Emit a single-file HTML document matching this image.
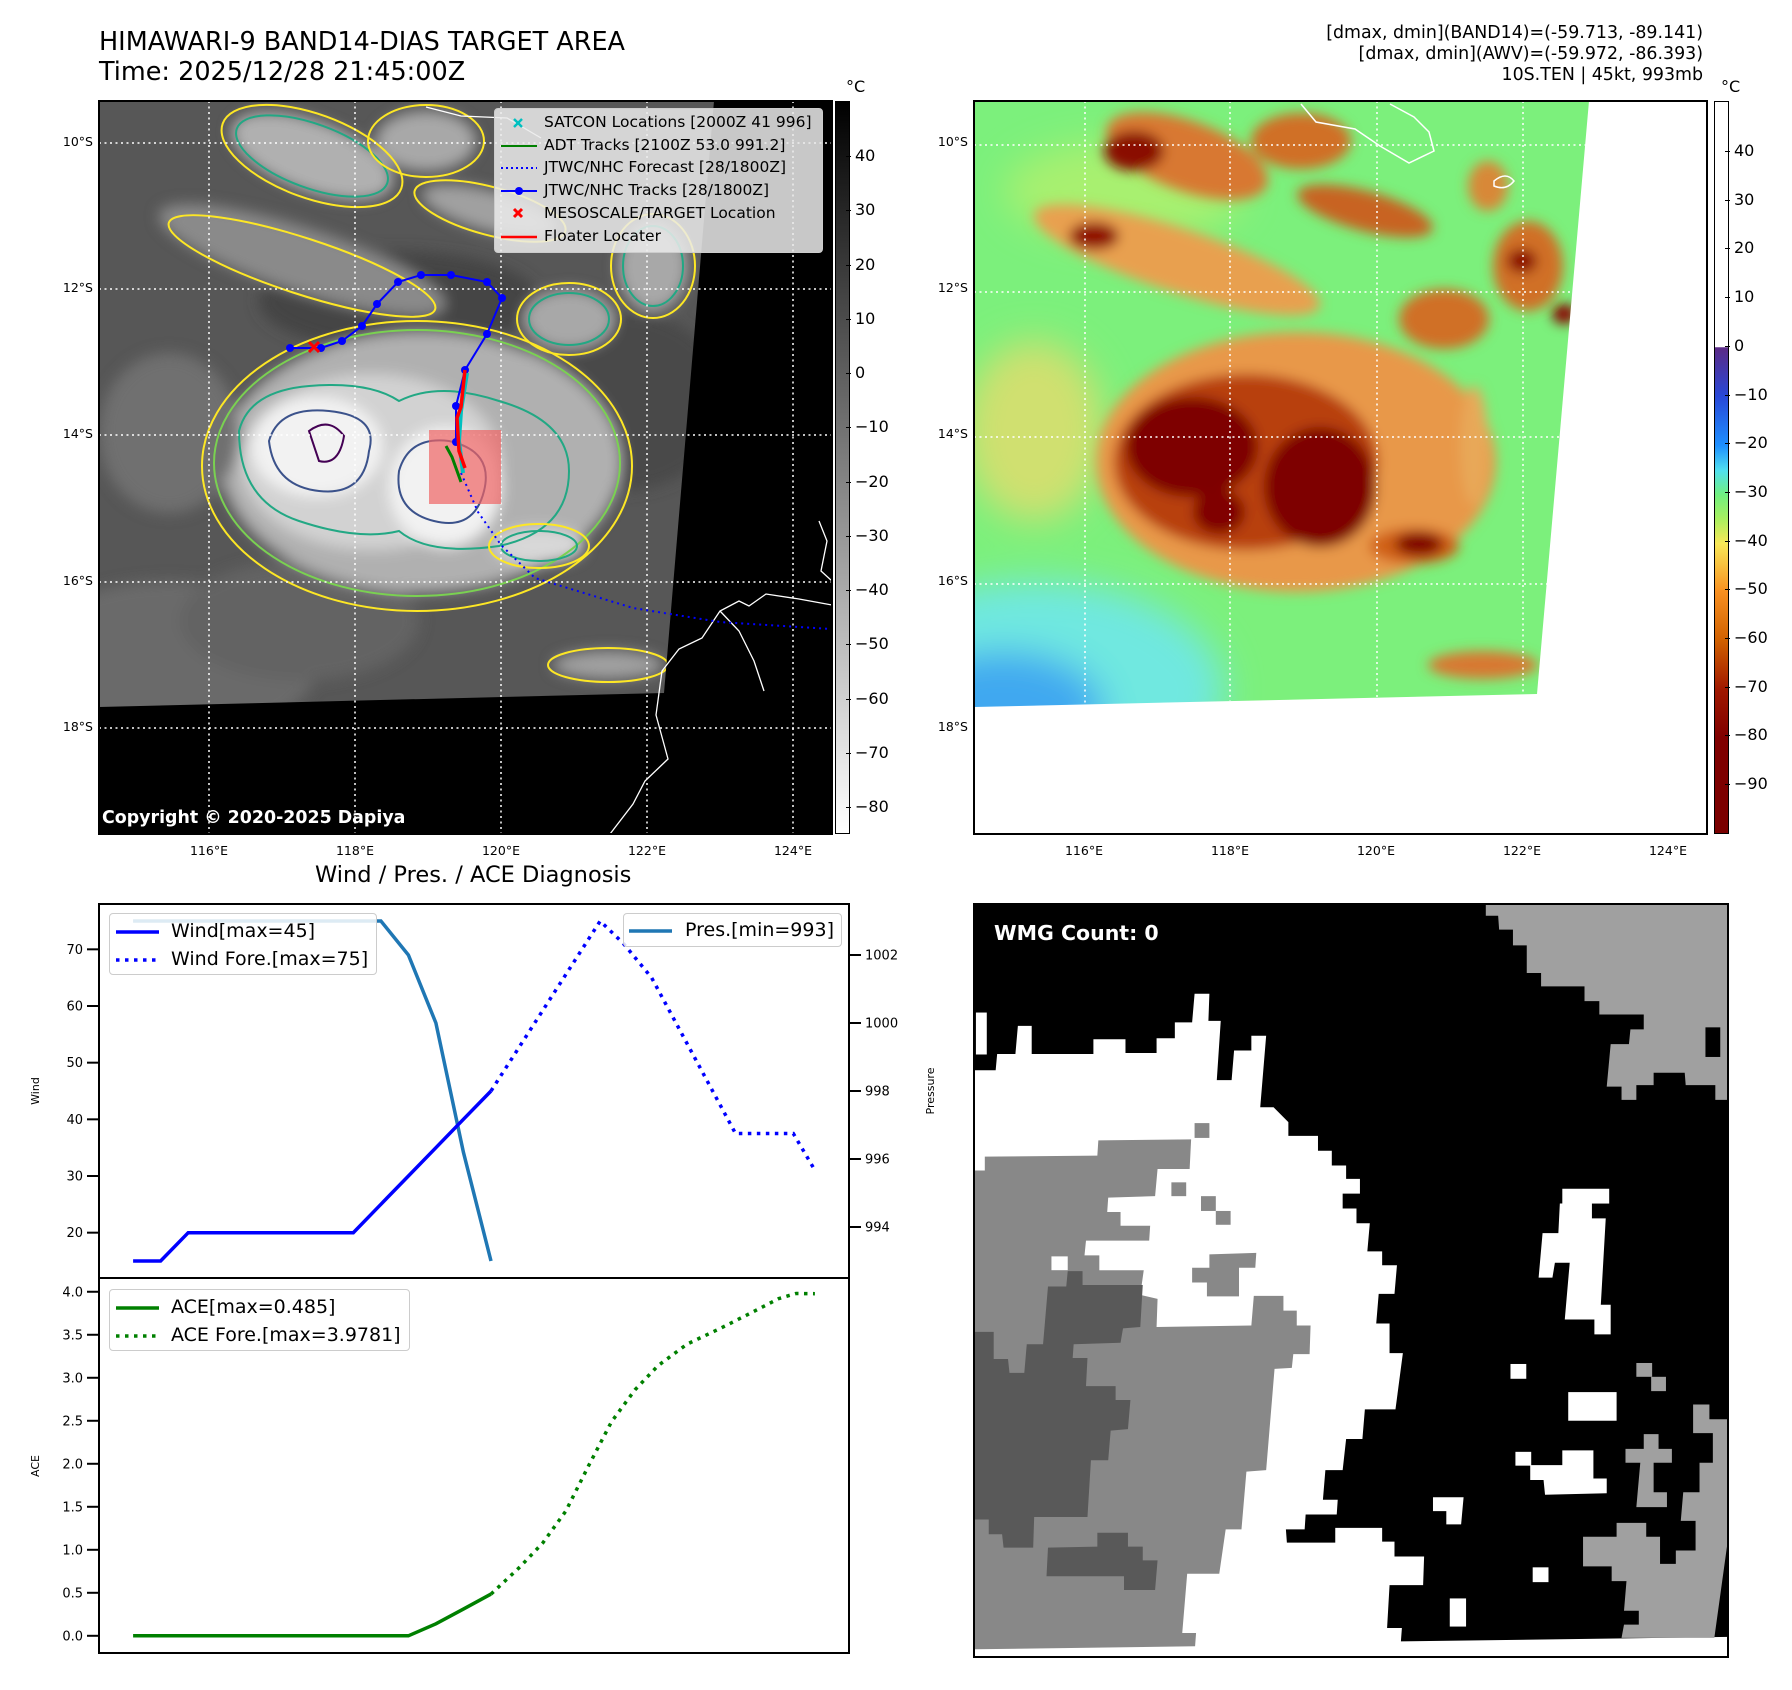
<!DOCTYPE html>
<html><head><meta charset="utf-8"><style>
*{margin:0;padding:0;box-sizing:border-box}
body{width:1792px;height:1690px;background:#fff;position:relative;overflow:hidden;font-family:"DejaVu Sans","Liberation Sans",sans-serif;color:#000}
.abs{position:absolute}
.t{position:absolute;white-space:nowrap;line-height:1}
.frame{position:absolute;border:2px solid #000}
.lat{position:absolute;font-size:12.5px;text-align:right;width:60px;white-space:nowrap}
.lon{position:absolute;font-size:12.5px;text-align:center;width:60px;white-space:nowrap}
.cbl{position:absolute;font-size:16px;white-space:nowrap}
.leg{position:absolute;background:rgba(235,235,235,0.85);border:1px solid #ccc;border-radius:4px}
.lt{position:absolute;font-size:15.5px;white-space:nowrap;line-height:1}
</style></head><body>

<div class="t" style="left:99px;top:30px;font-size:25.5px">HIMAWARI-9 BAND14-DIAS TARGET AREA</div>
<div class="t" style="left:99px;top:60px;font-size:25.5px">Time: 2025/12/28 21:45:00Z</div>
<div class="t" style="right:89px;top:23px;font-size:17.4px;text-align:right;line-height:21px">[dmax, dmin](BAND14)=(-59.713, -89.141)<br>[dmax, dmin](AWV)=(-59.972, -86.393)<br>10S.TEN | 45kt, 993mb</div>

<!-- MAP 1 -->
<svg class="abs" style="left:99px;top:101px" width="733" height="733" viewBox="0 0 733 733">
<defs>
<filter id="b6" x="-20%" y="-20%" width="140%" height="140%"><feGaussianBlur stdDeviation="7"/></filter>
<clipPath id="c1"><rect width="733" height="733"/></clipPath>
</defs>
<g clip-path="url(#c1)">
<rect width="733" height="733" fill="#575757"/>
<g filter="url(#b6)">
<ellipse cx="300" cy="200" rx="140" ry="50" fill="#444"/>
<ellipse cx="520" cy="300" rx="110" ry="90" fill="#4a4a4a"/>
<ellipse cx="70" cy="560" rx="150" ry="80" fill="#6a6a6a"/>
<ellipse cx="200" cy="520" rx="120" ry="60" fill="#636363"/>
<ellipse cx="322" cy="361" rx="200" ry="130" fill="#b0b0b0"/>
<ellipse cx="272" cy="361" rx="130" ry="88" fill="#d2d2d2"/>
<ellipse cx="218" cy="346" rx="66" ry="50" fill="#f2f2f2"/>
<ellipse cx="346" cy="386" rx="56" ry="60" fill="#f2f2f2"/>
<ellipse cx="440" cy="445" rx="45" ry="18" fill="#d8d8d8"/>
<ellipse cx="213" cy="55" rx="85" ry="35" fill="#b0b0b0" transform="rotate(20 213 55)"/>
<ellipse cx="327" cy="40" rx="50" ry="30" fill="#a8a8a8"/>
<ellipse cx="391" cy="110" rx="70" ry="20" fill="#a0a0a0" transform="rotate(15 391 110)"/>
<ellipse cx="203" cy="159" rx="150" ry="32" fill="#8a8a8a" transform="rotate(18 203 159)"/>
<ellipse cx="470" cy="218" rx="45" ry="30" fill="#a8a8a8"/>
<ellipse cx="554" cy="165" rx="35" ry="45" fill="#a8a8a8"/>
<ellipse cx="509" cy="564" rx="55" ry="14" fill="#a0a0a0"/>
<ellipse cx="70" cy="332" rx="70" ry="80" fill="#707070"/>
</g>
<g fill="none" stroke-width="2">
<ellipse cx="318" cy="365" rx="215" ry="145" stroke="#fde725"/>
<ellipse cx="318" cy="362" rx="203" ry="133" stroke="#7ad151"/>
<path d="M140 330 Q150 290 210 285 Q270 280 300 300 Q340 280 400 300 Q470 320 470 370 Q470 430 400 445 Q330 455 300 430 Q260 440 200 420 Q140 400 140 330Z" stroke="#22a884"/>
<path d="M170 340 Q180 305 230 310 Q280 315 270 350 Q265 395 220 390 Q175 385 170 340Z" stroke="#3b528b"/>
<path d="M300 370 Q310 335 350 340 Q395 350 385 390 Q375 430 335 420 Q295 410 300 370Z" stroke="#3b528b"/>
<path d="M210 330 Q230 315 245 335 Q240 365 220 360Z" stroke="#440154"/>
<ellipse cx="213" cy="55" rx="95" ry="42" stroke="#fde725" transform="rotate(20 213 55)"/>
<ellipse cx="213" cy="55" rx="80" ry="32" stroke="#22a884" transform="rotate(20 213 55)"/>
<ellipse cx="327" cy="40" rx="58" ry="36" stroke="#fde725"/>
<ellipse cx="391" cy="110" rx="78" ry="24" stroke="#fde725" transform="rotate(15 391 110)"/>
<ellipse cx="203" cy="165" rx="140" ry="28" stroke="#fde725" transform="rotate(18 203 165)"/>
<ellipse cx="470" cy="218" rx="52" ry="36" stroke="#fde725"/>
<ellipse cx="470" cy="218" rx="40" ry="26" stroke="#22a884"/>
<ellipse cx="554" cy="165" rx="42" ry="52" stroke="#fde725"/>
<ellipse cx="554" cy="165" rx="30" ry="40" stroke="#22a884"/>
<ellipse cx="509" cy="564" rx="60" ry="17" stroke="#fde725"/>
<ellipse cx="440" cy="445" rx="50" ry="22" stroke="#fde725"/>
<ellipse cx="440" cy="445" rx="38" ry="15" stroke="#22a884"/>
</g>
<polygon points="615,0 733,0 733,733 0,733 0,606 565,592" fill="#000"/>
<g stroke="#fff" stroke-width="1.5" stroke-dasharray="2 3.5" fill="none">
<line x1="110" y1="0" x2="110" y2="733"/><line x1="256" y1="0" x2="256" y2="733"/><line x1="402" y1="0" x2="402" y2="733"/><line x1="548" y1="0" x2="548" y2="733"/><line x1="694" y1="0" x2="694" y2="733"/>
<line x1="0" y1="42" x2="733" y2="42"/><line x1="0" y1="188" x2="733" y2="188"/><line x1="0" y1="334" x2="733" y2="334"/><line x1="0" y1="481" x2="733" y2="481"/><line x1="0" y1="627" x2="733" y2="627"/>
</g>
<g stroke="#fff" stroke-width="1.3" fill="none">
<path d="M733 504 L700 498 L667 493 L650 505 L640 500 L621 510 L603 537 L580 548 L563 570 L557 614 L569 658 L546 680 L534 703 L511 733"/>
<path d="M621 510 L640 530 L655 560 L665 590"/>
<path d="M327 6 L362 15 L408 17 L442 37"/>
<path d="M720 420 L728 440 L722 470 L733 480"/>
</g>
<rect x="330" y="329" width="72" height="74" fill="rgba(240,100,100,0.7)"/>
<polyline points="362,372 379,411 402,444 436,477 534,507 621,521 733,528" fill="none" stroke="#0000ff" stroke-width="2" stroke-dasharray="2 4"/>
<polyline points="191,247 222,247 243,240 263,225 278,203 299,181 322,174 352,174 388,181 403,197 388,233 366,269 357,305 357,341" fill="none" stroke="#0000ff" stroke-width="2"/>
<g fill="#0000ff"><circle cx="191" cy="247" r="4"/><circle cx="222" cy="247" r="4"/><circle cx="243" cy="240" r="4"/><circle cx="263" cy="225" r="4"/><circle cx="278" cy="203" r="4"/><circle cx="299" cy="181" r="4"/><circle cx="322" cy="174" r="4"/><circle cx="352" cy="174" r="4"/><circle cx="388" cy="181" r="4"/><circle cx="403" cy="197" r="4"/><circle cx="388" cy="233" r="4"/><circle cx="366" cy="269" r="4"/><circle cx="357" cy="305" r="4"/><circle cx="357" cy="341" r="4"/></g>
<polyline points="368,272 362,310 360,340 364,372" fill="none" stroke="#00c0c0" stroke-width="4"/>
<polyline points="347,345 353,356 362,381" fill="none" stroke="#008000" stroke-width="3"/>
<polyline points="366,269 362,306 358,317 360,350 366,367" fill="none" stroke="#ff0000" stroke-width="3.5"/>
<g stroke="#ff0000" stroke-width="3"><line x1="210" y1="241" x2="220" y2="251"/><line x1="220" y1="241" x2="210" y2="251"/></g>
</g>
</svg>
<div class="frame" style="left:98px;top:100px;width:735px;height:735px"></div>
<div class="t" style="left:102px;top:810px;font-size:17.4px;font-weight:bold;color:#fff">Copyright © 2020-2025 Dapiya</div>

<!-- legend map1 -->
<div class="leg" style="left:494px;top:108px;width:329px;height:145px">
<svg class="abs" style="left:0;top:0" width="329" height="145">
<g stroke="#00c0c0" stroke-width="2.5"><line x1="19" y1="10" x2="27" y2="18"/><line x1="27" y1="10" x2="19" y2="18"/></g>
<line x1="6" y1="37" x2="42" y2="37" stroke="#008000" stroke-width="2"/>
<line x1="6" y1="59" x2="42" y2="59" stroke="#0000ff" stroke-width="2" stroke-dasharray="2 3"/>
<line x1="6" y1="82" x2="42" y2="82" stroke="#0000ff" stroke-width="2"/><circle cx="24" cy="82" r="4" fill="#0000ff"/>
<g stroke="#ff0000" stroke-width="3"><line x1="19" y1="100" x2="27" y2="108"/><line x1="27" y1="100" x2="19" y2="108"/></g>
<line x1="6" y1="128" x2="42" y2="128" stroke="#ff0000" stroke-width="2.5"/>
</svg>
<div class="lt" style="left:49px;top:6px">SATCON Locations [2000Z 41 996]</div>
<div class="lt" style="left:49px;top:29px">ADT Tracks [2100Z 53.0 991.2]</div>
<div class="lt" style="left:49px;top:51px">JTWC/NHC Forecast [28/1800Z]</div>
<div class="lt" style="left:49px;top:74px">JTWC/NHC Tracks [28/1800Z]</div>
<div class="lt" style="left:49px;top:97px">MESOSCALE/TARGET Location</div>
<div class="lt" style="left:49px;top:120px">Floater Locater</div>
</div>

<!-- colorbar 1 -->
<div class="abs" style="left:835px;top:101px;width:15px;height:733px;border:1px solid #000;background:linear-gradient(#000,#fff)"></div>
<div class="t" style="left:846px;top:79px;font-size:16px">°C</div>
<div id="cb1"></div>

<!-- MAP 2 -->
<svg class="abs" style="left:974px;top:101px" width="733" height="733" viewBox="0 0 733 733">
<defs>
<filter id="c6" x="-20%" y="-20%" width="140%" height="140%"><feGaussianBlur stdDeviation="6"/></filter>
<filter id="c12" x="-30%" y="-30%" width="160%" height="160%"><feGaussianBlur stdDeviation="18"/></filter>
<clipPath id="c2"><rect width="733" height="733"/></clipPath>
</defs>
<g clip-path="url(#c2)">
<rect width="733" height="733" fill="#7cf07c"/>
<g filter="url(#c12)">
<ellipse cx="60" cy="590" rx="190" ry="110" fill="#70e8e0"/>
<ellipse cx="30" cy="610" rx="100" ry="60" fill="#40a8f0"/>
<ellipse cx="60" cy="330" rx="70" ry="90" fill="#d0e070"/>
<ellipse cx="150" cy="90" rx="120" ry="50" fill="#a8f070"/>
</g>
<g filter="url(#c6)">
<ellipse cx="322" cy="361" rx="200" ry="130" fill="#e89848"/>
<ellipse cx="272" cy="361" rx="132" ry="88" fill="#b84008"/>
<ellipse cx="218" cy="346" rx="66" ry="50" fill="#7e0000"/>
<ellipse cx="346" cy="386" rx="56" ry="60" fill="#7e0000"/>
<ellipse cx="245" cy="411" rx="26" ry="22" fill="#800000"/>
<ellipse cx="440" cy="445" rx="45" ry="18" fill="#d06018"/>
<ellipse cx="445" cy="443" rx="24" ry="12" fill="#800000"/>
<ellipse cx="213" cy="55" rx="85" ry="35" fill="#d87830" transform="rotate(20 213 55)"/>
<ellipse cx="160" cy="50" rx="30" ry="20" fill="#8a1000"/>
<ellipse cx="327" cy="40" rx="50" ry="28" fill="#d07028"/>
<ellipse cx="391" cy="110" rx="70" ry="20" fill="#c86420" transform="rotate(15 391 110)"/>
<ellipse cx="203" cy="159" rx="150" ry="32" fill="#e8a050" transform="rotate(18 203 159)"/>
<ellipse cx="120" cy="135" rx="25" ry="14" fill="#901000"/>
<ellipse cx="470" cy="218" rx="45" ry="30" fill="#d07028"/>
<ellipse cx="554" cy="165" rx="35" ry="45" fill="#d07028"/>
<ellipse cx="548" cy="160" rx="15" ry="12" fill="#8a0000"/>
<ellipse cx="590" cy="213" rx="12" ry="10" fill="#8a0000"/>
<ellipse cx="514" cy="85" rx="20" ry="25" fill="#d88838"/>
<ellipse cx="509" cy="564" rx="55" ry="14" fill="#d87830"/>
<ellipse cx="500" cy="345" rx="14" ry="60" fill="#e8a858"/>
</g>
<polygon points="615,0 733,0 733,733 0,733 0,606 563,593" fill="#fff"/>
<g stroke="#fff" stroke-width="1.5" stroke-dasharray="2 3.5" fill="none">
<line x1="111" y1="0" x2="111" y2="604"/><line x1="256" y1="0" x2="256" y2="600"/><line x1="403" y1="0" x2="403" y2="597"/><line x1="549" y1="0" x2="549" y2="593"/>
<line x1="0" y1="44" x2="615" y2="44"/><line x1="0" y1="191" x2="605" y2="191"/><line x1="0" y1="336" x2="595" y2="336"/><line x1="0" y1="483" x2="580" y2="483"/>
</g>
<g stroke="#fff" stroke-width="1.5" fill="none">
<path d="M327 3 L342 21 L381 28 L406 45 L435 62 L460 50 L455 31 L440 16 L416 3"/>
<path d="M520 80 Q532 70 540 80 Q532 90 520 85Z"/>
</g>
</g>
</svg>
<div class="frame" style="left:973px;top:100px;width:735px;height:735px"></div>
<div class="abs" style="left:1714px;top:101px;width:15px;height:733px;border:1px solid #000;background:linear-gradient(#fff 0%,#fff 33.5%,#5b2a86 33.6%,#2848d8 40.3%,#1e90ff 47%,#50e0f0 50.4%,#70f080 53.7%,#a8f060 57%,#f8e858 60.4%,#f89020 67%,#d06000 73.7%,#a01800 80.4%,#800000 87%,#7a0000 100%)"></div>
<div class="t" style="left:1721px;top:79px;font-size:16px">°C</div>
<div id="cb2"></div>
<div id="maplabels"></div>

<!-- WIND / ACE chart -->
<div class="t" style="left:315px;top:864px;font-size:22.5px">Wind / Pres. / ACE Diagnosis</div>
<svg id="chart" class="abs" style="left:0;top:880px" width="970" height="800" viewBox="0 880 970 800"></svg>

<div class="leg" style="left:109px;top:913px;width:268px;height:62px;background:rgba(255,255,255,0.85)">
<svg class="abs" width="268" height="62"><line x1="6" y1="18" x2="49" y2="18" stroke="#0000ff" stroke-width="3.5"/><line x1="6" y1="46" x2="49" y2="46" stroke="#0000ff" stroke-width="3.5" stroke-dasharray="3.5 5.5"/></svg>
<div class="lt" style="left:61px;top:8px;font-size:19px">Wind[max=45]</div>
<div class="lt" style="left:61px;top:36px;font-size:19px">Wind Fore.[max=75]</div>
</div>
<div class="leg" style="left:623px;top:913px;width:219px;height:34px;background:rgba(255,255,255,0.85)">
<svg class="abs" width="219" height="34"><line x1="5" y1="17" x2="48" y2="17" stroke="#1f77b4" stroke-width="3.5"/></svg>
<div class="lt" style="left:61px;top:7px;font-size:19px">Pres.[min=993]</div>
</div>
<div class="leg" style="left:109px;top:1289px;width:301px;height:62px;background:rgba(255,255,255,0.85)">
<svg class="abs" width="301" height="62"><line x1="6" y1="18" x2="49" y2="18" stroke="#008000" stroke-width="3.5"/><line x1="6" y1="46" x2="49" y2="46" stroke="#008000" stroke-width="3.5" stroke-dasharray="3.5 5.5"/></svg>
<div class="lt" style="left:61px;top:8px;font-size:19px">ACE[max=0.485]</div>
<div class="lt" style="left:61px;top:36px;font-size:19px">ACE Fore.[max=3.9781]</div>
</div>

<!-- WMG panel -->
<svg class="abs" style="left:970px;top:900px" width="770" height="770" viewBox="0 0 1560 1560">
<rect x="8" y="8" width="1529" height="1525" fill="#fff"/>
<polygon fill="#000" points="8,8 1537,8 1537,1493 873,1502 875,1475 845,1475 850,1388 918,1388 920,1330 860,1330 860,1300 835,1300 835,1272 740,1272 740,1302 642,1302 640,1275 678,1275 680,1245 743,1245 745,1215 715,1215 720,1155 755,1155 762,1092 795,1092 800,1032 862,1032 877,918 850,918 850,858 823,858 828,798 860,798 865,740 835,740 835,712 805,712 810,655 783,655 783,625 755,625 755,595 790,595 790,565 762,565 762,538 733,538 733,508 705,508 705,478 645,478 645,450 615,420 588,420 600,275 570,275 570,305 535,305 530,365 500,365 508,245 483,245 485,190 455,190 450,248 415,248 415,280 378,280 378,310 315,310 315,282 250,282 250,312 125,312 125,255 97,255 92,312 55,312 52,345 8,345"/>
<rect x="12" y="228" width="22" height="85" fill="#fff"/>
<g fill="#fff">
<rect x="1200" y="585" width="95" height="30"/>
<polygon points="1195,615 1260,615 1260,645 1288,645 1278,820 1298,820 1298,880 1265,880 1265,850 1205,850 1215,735 1185,735 1180,765 1152,765 1160,675 1192,675"/>
<rect x="1095" y="940" width="32" height="30"/>
<rect x="1212" y="997" width="98" height="58"/>
<rect x="1105" y="1118" width="32" height="28"/>
<polygon points="1135,1145 1200,1145 1200,1115 1263,1115 1263,1172 1290,1172 1290,1202 1165,1205 1162,1175 1135,1175"/>
<polygon points="938,1210 1000,1210 995,1265 965,1265 965,1238 938,1238"/>
<rect x="1140" y="1352" width="32" height="30"/>
<rect x="972" y="1415" width="33" height="57"/>
</g>
<g fill="#a0a0a0">
<polygon points="1045,10 1537,10 1537,405 1510,405 1510,375 1450,375 1448,350 1385,350 1385,375 1350,375 1350,405 1320,405 1320,378 1290,378 1298,292 1335,292 1338,262 1365,262 1365,232 1275,232 1275,205 1245,205 1245,175 1157,175 1157,148 1128,148 1128,92 1100,92 1100,60 1072,60 1070,32 1045,32"/>
<polygon points="1465,1022 1498,1022 1498,1052 1535,1052 1535,1300 1508,1495 1320,1495 1325,1468 1355,1468 1355,1440 1325,1440 1330,1380 1300,1380 1300,1350 1242,1350 1242,1290 1310,1290 1310,1262 1370,1262 1370,1290 1398,1290 1398,1345 1430,1345 1430,1318 1470,1318 1470,1258 1440,1258 1445,1200 1478,1200 1478,1140 1505,1140 1505,1080 1465,1080"/>
<polygon points="1328,1112 1365,1112 1365,1082 1395,1082 1395,1112 1422,1112 1422,1140 1385,1140 1385,1200 1412,1200 1412,1230 1350,1230 1358,1140 1328,1140"/>
<rect x="1350" y="938" width="32" height="28"/><rect x="1380" y="966" width="30" height="29"/>
</g>
<rect x="1490" y="258" width="30" height="60" fill="#000"/>
<polygon fill="#888" points="10,548 30,548 30,520 258,518 260,487 448,485 445,545 380,545 375,600 280,603 278,632 305,632 305,660 365,660 363,690 235,690 232,720 262,720 262,750 352,750 345,800 380,808 378,865 570,862 575,802 635,802 635,832 662,832 662,862 690,862 688,920 655,920 652,948 617,950 600,1155 560,1158 550,1275 518,1275 505,1365 440,1365 430,1485 458,1485 456,1512 10,1518"/>
<g fill="#888"><rect x="455" y="452" width="30" height="30"/><rect x="408" y="572" width="30" height="28"/><rect x="468" y="600" width="30" height="30"/><rect x="498" y="630" width="30" height="28"/>
<polygon points="485,718 580,715 578,745 545,745 545,803 480,803 480,775 450,775 450,745 485,745"/></g>
<rect x="165" y="722" width="33" height="28" fill="#fff"/>
<polygon fill="#595959" points="10,875 48,875 48,930 77,930 80,958 110,958 115,900 148,900 158,783 195,783 198,752 228,752 228,780 350,780 345,865 310,868 305,897 210,900 208,928 238,928 235,985 295,985 295,1013 325,1013 320,1072 285,1075 280,1135 245,1135 238,1250 130,1250 128,1312 68,1312 65,1285 38,1285 38,1255 10,1255"/>
<polygon fill="#595959" points="258,1282 320,1282 320,1310 350,1310 350,1338 380,1338 375,1398 312,1398 312,1370 155,1370 158,1312 258,1310"/>
</svg>
<div class="frame" style="left:973px;top:903px;width:756px;height:755px"></div>
<div class="t" style="left:994px;top:923px;font-size:20.5px;font-weight:bold;color:#fff">WMG Count: 0</div>

<script>
// ---- chart data ----
const obsHours = [0,6,12,18,24,30,36,42,48,54,60,66,72,78];
const windObs = [15,15,20,20,20,20,20,20,20,25,30,35,40,45];
const presObs = [1003,1003,1003,1003,1003,1003,1003,1003,1003,1003,1002,1000,996.2,993];
const aceObs = [0,0,0,0,0,0,0,0,0,0,0,0.14,0.31,0.485];
const foreHours = [78,101.8,106.9,113,131.3,143.9,148.6];
const windFore = [45,75,71,65,37.5,37.5,31];
const aceForeHours = [78,84.3,89.3,94.3,99.3,104.3,109.4,114.4,120.7,128.2,134.5,140.7,144.5,148.6];
const aceFore = [0.485,0.8,1.08,1.45,1.98,2.49,2.86,3.14,3.39,3.58,3.75,3.92,3.98,3.978];
const windTicks = [20,30,40,50,60,70];
const presTicks = [994,996,998,1000,1002];
const aceTicks = [0.0,0.5,1.0,1.5,2.0,2.5,3.0,3.5,4.0];
const cb1Ticks = [40,30,20,10,0,-10,-20,-30,-40,-50,-60,-70,-80];
const cb2Ticks = [40,30,20,10,0,-10,-20,-30,-40,-50,-60,-70,-80,-90];
const latLabels = ["10°S","12°S","14°S","16°S","18°S"];
const lonLabels = ["116°E","118°E","120°E","122°E","124°E"];

const NS='http://www.w3.org/2000/svg';
const svg=document.getElementById('chart');
const L=99,R=849,T1=904,B1=1278,T2=1278,B2=1653;
const xmin=-7.43,xmax=156.03;
function X(h){return L+(h-xmin)/(xmax-xmin)*(R-L);}
function YW(v){return T1+(78-v)/(78-12)*(B1-T1);}
function YP(p){return T1+(1003.5-p)/(1003.5-992.5)*(B1-T1);}
function YA(a){return T2+(4.16-a)/(4.16+0.2)*(B2-T2);}
function mk(tag,attrs){const e=document.createElementNS(NS,tag);for(const k in attrs)e.setAttribute(k,attrs[k]);svg.appendChild(e);return e;}
function pts(xs,ys,fy){return xs.map((h,i)=>X(h).toFixed(1)+','+fy(ys[i]).toFixed(1)).join(' ');}

let e;
e=mk('polyline',{points:pts(obsHours,presObs,YP),fill:'none',stroke:'#1f77b4','stroke-width':3.5});


e=mk('polyline',{points:pts(obsHours,windObs,YW),fill:'none',stroke:'#0000ff','stroke-width':3.5});


e=mk('polyline',{points:pts(foreHours,windFore,YW),fill:'none',stroke:'#0000ff','stroke-width':3.5,'stroke-dasharray':'3.5 5.5'});


e=mk('polyline',{points:pts(obsHours,aceObs,YA),fill:'none',stroke:'#008000','stroke-width':3.5});


e=mk('polyline',{points:pts(aceForeHours,aceFore,YA),fill:'none',stroke:'#008000','stroke-width':3.5,'stroke-dasharray':'3.5 5.5'});



e=mk('rect',{x:L,y:T1,width:R-L,height:B1-T1,fill:'none',stroke:'#000','stroke-width':2});


e=mk('rect',{x:L,y:T2,width:R-L,height:B2-T2,fill:'none',stroke:'#000','stroke-width':2});



function tickLabel(x,y,txt,anchor,name){
  mk('line',{x1:anchor==='end'?x+4:x-16,y1:y,x2:anchor==='end'?x+16:x-4,y2:y,stroke:'#000','stroke-width':2});
  const t=mk('text',{x:x,y:y+4.5,'font-size':13,'text-anchor':anchor,'font-family':'DejaVu Sans, Liberation Sans, sans-serif'});
  t.textContent=txt;
  
  
}
windTicks.forEach(v=>tickLabel(83,YW(v),String(v),'end','wind-tick-label'));
presTicks.forEach(v=>tickLabel(865,YP(v),String(v),'start','pressure-tick-label'));
aceTicks.forEach(v=>tickLabel(83,YA(v),v.toFixed(1),'end','ace-tick-label'));

function vlabel(x,y,txt,name){
  const t=mk('text',{x:x,y:y,'font-size':11,'text-anchor':'middle',transform:`rotate(-90 ${x} ${y})`,'font-family':'DejaVu Sans, Liberation Sans, sans-serif'});
  t.textContent=txt;
  
  
}
vlabel(39,1091,'Wind','wind-axis-title');
vlabel(934,1091,'Pressure','pressure-axis-title');
vlabel(39,1466,'ACE','ace-axis-title');

function cbLabels(id,ticks,x0,fy,prefix){
  const c=document.getElementById(id);
  ticks.forEach(v=>{
    const d=document.createElement('div');
    d.className='cbl';
    d.style.left=(x0-5)+'px';
    d.style.top=(fy(v)-10)+'px';
    d.innerHTML='<span style="display:inline-block;width:5px;height:1px;background:#000;vertical-align:middle;margin-right:4px"></span>'+(v<0?'\u2212'+(-v):String(v));
    
    
    c.appendChild(d);
  });
}
cbLabels('cb1',cb1Ticks,851,v=>156+(40-v)*5.425,'ir-colorbar');
cbLabels('cb2',cb2Ticks,1730,v=>151+(40-v)*4.87,'wv-colorbar');

const ml=document.getElementById('maplabels');
const latY=[142,288,434,581,727];
const lonX=[209,355,501,647,793];
[0,875].forEach((off,mi)=>{
  latLabels.forEach((s,i)=>{
    const d=document.createElement('div');d.className='lat';
    d.style.left=(off+33)+'px';d.style.top=(latY[i]-8)+'px';d.textContent=s;
    
    
    ml.appendChild(d);
  });
  lonLabels.forEach((s,i)=>{
    const d=document.createElement('div');d.className='lon';
    d.style.left=(off+lonX[i]-30)+'px';d.style.top='843px';d.textContent=s;
    
    
    ml.appendChild(d);
  });
});
</script>
</body></html>
